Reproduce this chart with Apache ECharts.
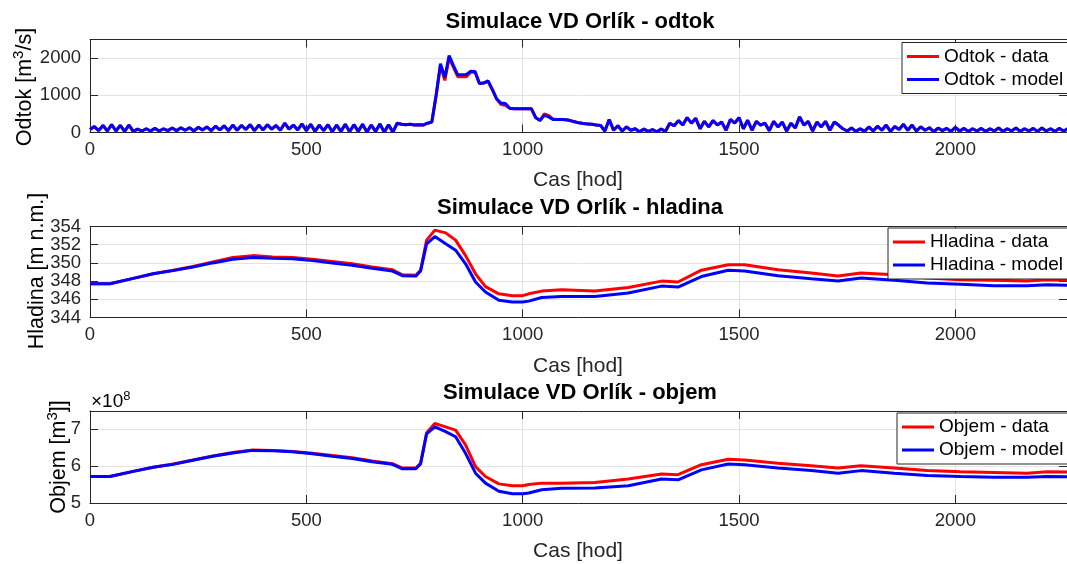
<!DOCTYPE html>
<html>
<head>
<meta charset="utf-8">
<script src="https://cdn.jsdelivr.net/npm/echarts@6/dist/echarts.min.js"></script>
<style>
html,body{margin:0;padding:0;background:#fff;}
#c{width:1067px;height:564px;}
</style>
</head>
<body>
<div id="c"></div>
<script>
// ---------------- DATA ----------------
// Odtok (outflow) sampled every 10 hours from 0 h
const qStart = 0, qStep = 10;
const odtokModel = [
  80,160,50,190,40,210,40,190,30,200,
  30,90,40,100,40,110,40,100,50,120,
  50,130,60,130,40,140,70,150,50,170,
  70,180,50,200,60,190,80,210,50,200,
  70,210,90,190,60,250,90,200,70,230,
  50,220,30,200,50,210,20,200,30,220,
  20,210,30,220,10,200,30,230,10,210,
  10,250,220,210,220,200,210,200,250,280,
  1000,1850,1480,2070,1800,1550,1550,1560,1650,1640,
  1320,1330,1390,1150,900,790,780,650,640,640,
  640,640,640,400,320,460,420,350,350,350,
  340,320,290,260,240,230,220,200,190,40,
  350,60,180,40,150,60,100,20,90,30,
  80,20,90,30,250,180,320,200,400,250,
  380,100,300,150,320,200,280,60,350,250,
  400,100,330,60,300,200,250,50,300,150,
  280,40,250,120,420,200,300,40,280,150,
  300,60,280,200,100,40,120,30,100,30,
  150,40,170,60,200,30,160,80,220,60,
  200,40,150,60,130,20,120,50,110,30,
  140,40,110,30,100,40,110,30,100,40,
  120,30,100,40,120,30,100,40,110,30,
  120,40,100,30,110,40,100
];
const odtokData = [
  80,160,50,190,40,210,40,190,30,200,
  30,90,40,100,40,110,40,100,50,120,
  50,130,60,130,40,140,70,150,50,170,
  70,180,50,200,60,190,80,210,50,200,
  70,210,90,190,60,250,90,200,70,230,
  50,220,30,200,50,210,20,200,30,220,
  20,210,30,220,10,200,30,230,10,210,
  10,250,220,210,220,200,210,200,250,280,
  1000,1800,1400,2000,1750,1500,1500,1500,1620,1620,
  1320,1330,1380,1150,900,750,730,650,640,640,
  640,640,640,400,330,500,460,360,350,350,
  340,320,290,260,240,230,220,200,190,40,
  350,60,180,40,150,60,100,20,90,30,
  80,20,90,30,250,180,320,200,400,250,
  380,100,300,150,320,200,280,60,350,250,
  400,100,330,60,300,200,250,50,300,150,
  280,40,250,120,420,200,300,40,280,150,
  300,60,280,200,100,40,120,30,100,30,
  150,40,170,60,200,30,160,80,220,60,
  200,40,150,60,130,20,120,50,110,30,
  140,40,110,30,100,40,110,30,100,40,
  120,30,100,40,120,30,100,40,110,30,
  120,40,100,30,110,40,100
];

// Hladina / Objem sampled at these hours
const hoursHV = [0,46,100,146,192,238,284,330,376,422,468,514,560,606,652,699,722,753,764,778,797,822,845,868,891,914,945,976,1000,1014,1044,1090,1167,1244,1321,1359,1413,1475,1513,1590,1667,1729,1782,1859,1935,2012,2089,2166,2212,2260];
const hladinaData  = [347.7,347.7,348.3,348.8,349.2,349.6,350.1,350.6,350.8,350.65,350.6,350.4,350.15,349.9,349.55,349.25,348.7,348.65,349.2,352.5,353.6,353.3,352.5,350.8,348.8,347.4,346.6,346.4,346.4,346.6,346.9,347.05,346.9,347.3,348.0,347.9,349.2,349.8,349.8,349.25,348.9,348.55,348.9,348.7,348.35,348.15,348.1,348.0,348.15,348.1];
const hladinaModel = [347.7,347.7,348.3,348.8,349.15,349.55,350.0,350.4,350.6,350.5,350.45,350.25,350.0,349.75,349.4,349.1,348.6,348.55,349.1,352.1,352.9,352.1,351.4,349.9,347.9,346.8,345.9,345.7,345.7,345.8,346.2,346.3,346.3,346.7,347.45,347.35,348.5,349.2,349.1,348.6,348.25,348.0,348.35,348.1,347.8,347.65,347.5,347.5,347.6,347.55];
// Objem in units of 1e8 m^3
const objemData  = [5.72,5.72,5.86,5.97,6.06,6.17,6.28,6.37,6.44,6.43,6.40,6.35,6.29,6.23,6.14,6.07,5.95,5.95,6.08,6.91,7.16,7.07,6.98,6.58,5.99,5.72,5.52,5.47,5.47,5.50,5.54,5.54,5.56,5.65,5.79,5.77,6.04,6.19,6.17,6.08,6.01,5.95,6.01,5.95,5.88,5.85,5.83,5.81,5.85,5.84];
const objemModel = [5.72,5.72,5.86,5.97,6.05,6.16,6.27,6.36,6.43,6.42,6.39,6.34,6.27,6.21,6.12,6.05,5.93,5.93,6.06,6.88,7.07,6.94,6.80,6.35,5.81,5.54,5.32,5.25,5.25,5.27,5.36,5.40,5.41,5.47,5.65,5.63,5.90,6.06,6.04,5.95,5.88,5.81,5.88,5.81,5.75,5.72,5.70,5.70,5.72,5.71];

const titles = ['Simulace VD Orlík - odtok','Simulace VD Orlík - hladina','Simulace VD Orlík - objem'];
const xLabel = 'Cas [hod]';
const legendNames = [['Odtok - data','Odtok - model'],['Hladina - data','Hladina - model'],['Objem - data','Objem - model']];
const xRange = [0, 2258], xInterval = 500;
const yRanges = [[0,2500,1000],[344,354,2],[5,7.5,1]];
// Hladina tick labels split over two label layers (dense ticks)
const hladinaLabelsA = [344,348,350,354];
const hladinaLabelsB = [346,352];

// ---------------- CHART ----------------
const FONT = '"Liberation Sans", Arial, Helvetica, sans-serif';
const TXT = '#262626';
const chart = echarts.init(document.getElementById('c'), null, {renderer:'canvas', width:1067, height:564});

const qPairs = (arr) => arr.map((v,i)=>[qStart + i*qStep, v]);
const hvPairs = (arr) => arr.map((v,i)=>[hoursHV[i], v]);

const gridTops = [39.5, 226.5, 411];
const gridH = [93, 91, 92];
const grids = gridTops.map((t,i)=>({left:90, top:t, width:979, height:gridH[i], containLabel:false}));

const plainNum = (v) => String(Math.round(v*1000)/1000);
const onlyIn = (list) => (v) => list.some(x=>Math.abs(x-v)<1e-6) ? plainNum(v) : '';
const xAxes = [], yAxes = [];
for (let g=0; g<3; g++) {
  xAxes.push({type:'value', gridIndex:g, position:'bottom', min:xRange[0], max:xRange[1], interval:xInterval,
    axisLine:{show:true, onZero:false, lineStyle:{color:TXT, width:1}},
    axisTick:{show:true, inside:true, length:8, lineStyle:{color:TXT}},
    axisLabel:{show:true, color:TXT, fontSize:18.5, fontFamily:FONT, margin:8, showMaxLabel:false, hideOverlap:false, formatter:plainNum},
    splitLine:{show:true, lineStyle:{color:'#e3e3e3', width:1}}});
  xAxes.push({type:'value', gridIndex:g, position:'top', min:xRange[0], max:xRange[1], interval:xInterval,
    axisLine:{show:true, onZero:false, lineStyle:{color:TXT, width:1}},
    axisTick:{show:true, inside:true, length:8, lineStyle:{color:TXT}},
    axisLabel:{show:false}, splitLine:{show:false}});
  const yr = yRanges[g];
  yAxes.push({type:'value', gridIndex:g, position:'left', min:yr[0], max:yr[1], interval:yr[2],
    axisLine:{show:true, onZero:false, lineStyle:{color:TXT, width:1}},
    axisTick:{show:true, inside:true, length:8, lineStyle:{color:TXT}},
    axisLabel:{show:true, color:TXT, fontSize:18.5, fontFamily:FONT, margin:9,
      showMinLabel:true, showMaxLabel: g===1, hideOverlap:false,
      formatter: g===1 ? onlyIn(hladinaLabelsA) : plainNum},
    splitLine:{show:true, lineStyle:{color:'#e3e3e3', width:1}}});
  yAxes.push({type:'value', gridIndex:g, position:'right', min:yr[0], max:yr[1], interval:yr[2],
    axisLine:{show:true, onZero:false, lineStyle:{color:TXT, width:1}},
    axisTick:{show:true, inside:true, length:8, lineStyle:{color:TXT}},
    axisLabel:{show:false}, splitLine:{show:false}});
}
// second label layer for Hladina axis
yAxes.push({type:'value', gridIndex:1, position:'left', min:yRanges[1][0], max:yRanges[1][1], interval:yRanges[1][2],
  axisLine:{show:false}, axisTick:{show:false}, splitLine:{show:false},
  axisLabel:{show:true, color:TXT, fontSize:18.5, fontFamily:FONT, margin:9, showMinLabel:true, showMaxLabel:true,
    hideOverlap:false, formatter:onlyIn(hladinaLabelsB)}});

function line(name, data, color, g) {
  return {type:'line', name:name, data:data, xAxisIndex:g*2, yAxisIndex:g*2, showSymbol:false, symbol:'none',
    lineStyle:{color:color, width:3}, itemStyle:{color:color}, animation:false, z:3};
}
const RED='#ff0000', BLUE='#0000ff';
const series = [
  line(legendNames[0][0], qPairs(odtokData), RED, 0),
  line(legendNames[0][1], qPairs(odtokModel), BLUE, 0),
  line(legendNames[1][0], hvPairs(hladinaData), RED, 1),
  line(legendNames[1][1], hvPairs(hladinaModel), BLUE, 1),
  line(legendNames[2][0], hvPairs(objemData), RED, 2),
  line(legendNames[2][1], hvPairs(objemModel), BLUE, 2)
];

const legendPos = [[902,42.5],[888,228],[897,413]];
const legends = legendNames.map((names,i)=>({
  data:names, orient:'vertical', left:legendPos[i][0], top:legendPos[i][1],
  icon:'rect', itemWidth:32, itemHeight:3, itemGap:3,
  padding:[4,40,4,5], borderColor:TXT, borderWidth:1, backgroundColor:'#fff',
  textStyle:{color:'#000', fontSize:19, fontFamily:FONT, lineHeight:20},
  selectedMode:false
}));

const richBase = (fs) => ({
  a:{fontSize:fs, fontFamily:FONT, color:TXT, verticalAlign:'bottom', lineHeight:fs+4},
  s:{fontSize:Math.round(fs*0.68), fontFamily:FONT, color:TXT, verticalAlign:'bottom', padding:[0,0,fs*0.45,0], lineHeight:fs+4}
});

const graphics = [];
const titleY = [22, 208, 393];
const xlabY = [180, 366, 551];
titles.forEach((t,i)=>{
  graphics.push({type:'text', x:580, y:titleY[i], style:{text:t, font:'bold 22px '+FONT, fill:'#000', align:'center', verticalAlign:'middle'}});
  graphics.push({type:'text', x:578, y:xlabY[i], style:{text:xLabel, font:'21px '+FONT, fill:TXT, align:'center', verticalAlign:'middle'}});
});
const yLabels = [
  {text:'{a|Odtok [m}{s|3}{a|/s]}', x:23, y:87},
  {text:'{a|Hladina [m n.m.]}', x:35, y:271},
  {text:'{a|Objem [m}{s|3}{a|]]}', x:57, y:457}
];
yLabels.forEach(l=>{
  graphics.push({type:'text', x:l.x, y:l.y, rotation:Math.PI/2,
    style:{text:l.text, rich:richBase(21.5), align:'center', verticalAlign:'middle'}});
});
graphics.push({type:'text', x:91, y:400, style:{text:'{a|\u00d710}{s|8}', rich:richBase(19), align:'left', verticalAlign:'middle'}});

chart.setOption({
  animation:false,
  backgroundColor:'#fff',
  grid:grids, xAxis:xAxes, yAxis:yAxes, series:series, legend:legends, graphic:graphics
});
</script>
</body>
</html>
